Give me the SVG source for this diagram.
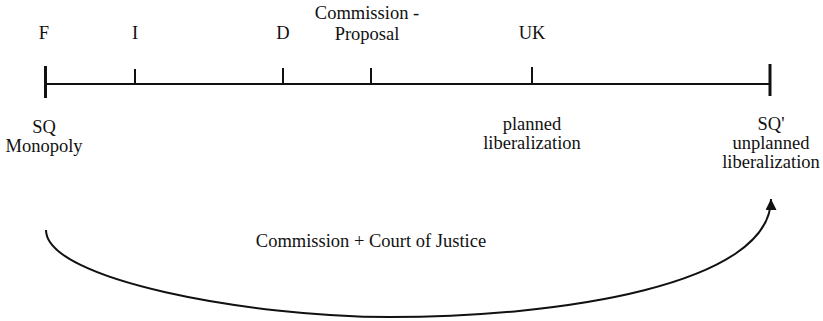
<svg xmlns="http://www.w3.org/2000/svg" width="823" height="321" viewBox="0 0 823 321">
<style>
text{font-family:'Liberation Serif','DejaVu Serif',serif;font-size:18.5px;fill:#111;text-anchor:middle}
.ln{stroke:#111;stroke-width:2;fill:none}
.tk{stroke:#111;stroke-width:2}
.end{stroke:#111;stroke-width:3}
</style>
<defs>
<marker id="ah" viewBox="0 0 10 10" refX="10" refY="5" markerWidth="11" markerHeight="11" markerUnits="userSpaceOnUse" orient="auto">
<path d="M0,0 L10,5 L0,10 Z" fill="#111"/>
</marker>
</defs>
<g font-family="Liberation Serif, serif">
<g id="timeline">
<line class="ln" x1="45" y1="84" x2="770" y2="84"/>
<line class="end" x1="45.5" y1="66" x2="45.5" y2="98"/>
<line class="end" x1="770" y1="64" x2="770" y2="96"/>
</g>
<g id="node-F"><text x="44" y="39">F</text></g>
<g id="node-I"><line class="tk" x1="135" y1="69" x2="135" y2="84"/><text x="135" y="39">I</text></g>
<g id="node-D"><line class="tk" x1="283" y1="68" x2="283" y2="84"/><text x="283" y="39">D</text></g>
<g id="node-commission"><line class="tk" x1="371" y1="68" x2="371" y2="84"/><text x="367" y="19">Commission -</text><text x="367" y="40">Proposal</text></g>
<g id="node-UK"><line class="tk" x1="532" y1="67" x2="532" y2="84"/><text x="532" y="39">UK</text></g>
<g id="node-SQ"><text x="44" y="133">SQ</text><text x="44" y="152">Monopoly</text></g>
<g id="node-planned"><text x="532" y="130">planned</text><text x="532" y="149">liberalization</text></g>
<g id="node-SQ2"><text x="771" y="130">SQ'</text><text x="771" y="149">unplanned</text><text x="771" y="168">liberalization</text></g>
<g id="connectors">
<path class="ln" d="M46,230 C46,280 250,317 390,317 C560,317 771,285 771,199" marker-end="url(#ah)"/>
<text x="371" y="247">Commission + Court of Justice</text>
</g>
</g>
</svg>
